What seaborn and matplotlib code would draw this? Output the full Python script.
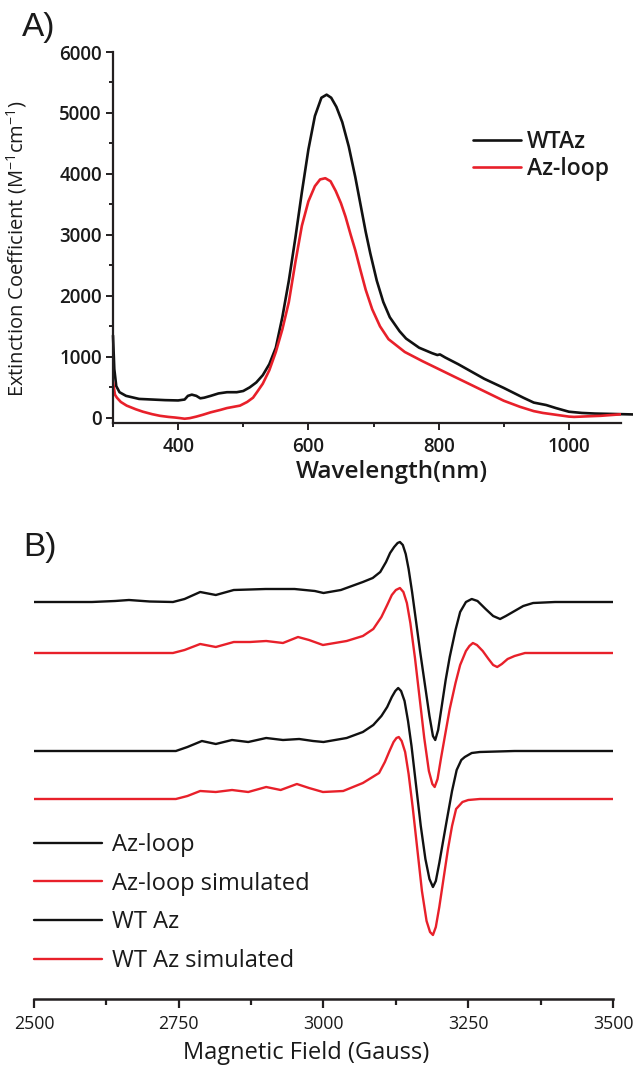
import numpy as np
import pandas as pd
import matplotlib
matplotlib.use("Agg")
import matplotlib.pyplot as plt
import seaborn as sns
from matplotlib.ticker import MultipleLocator

# ---------------- Panel A: UV-vis ----------------
wt_wl = [300, 302, 305, 310, 320, 340, 360, 380, 400, 410, 415, 421, 428, 434, 440, 450, 462, 475,
         490, 500, 510, 520, 530, 540, 550, 560, 570, 580, 590, 600, 610, 620, 628, 635, 643, 652,
         662, 672, 680, 688, 695, 705, 715, 725, 740, 750, 770, 790, 798, 802, 810, 830, 850, 870,
         900, 930, 946, 965, 980, 1000, 1020, 1040, 1060, 1080, 1100]
wt_ext = [1350, 800, 520, 420, 360, 310, 300, 290, 285, 300, 360, 380, 360, 320, 330, 360, 400, 420,
          420, 440, 500, 580, 700, 880, 1150, 1650, 2250, 2950, 3700, 4400, 4950, 5250, 5300, 5250, 5100, 4850,
          4450, 3950, 3500, 3050, 2700, 2250, 1900, 1650, 1420, 1300, 1150, 1060, 1030, 1040, 990, 880, 760, 640,
          490, 330, 250, 210, 160, 100, 80, 70, 65, 60, 55]

loop_wl = [300, 303, 306, 312, 321, 335, 346, 360, 372, 385, 395, 403, 410, 418, 428, 438, 450, 465,
           475, 485, 495, 506, 515, 521, 530, 540, 550, 560, 570, 580, 590, 600, 610, 618, 626, 634,
           642, 650, 657, 665, 672, 680, 688, 698, 710, 723, 748, 775, 800, 823, 850, 875, 900, 925, 946,
           960, 980, 1000, 1008, 1030, 1049, 1083]
loop_ext = [590, 380, 330, 260, 200, 140, 100, 60, 33, 15, 5, -5, -15, -5, 20, 50, 90, 130,
            160, 180, 200, 260, 330, 420, 560, 780, 1080, 1450, 1900, 2550, 3150, 3550, 3800, 3910, 3930, 3880,
            3720, 3520, 3300, 3000, 2750, 2420, 2100, 1780, 1500, 1290, 1080, 930, 800, 680, 540, 410, 280, 180, 110,
            80, 50, 20, 15, 25, 33, 60]

uv_labels = ["WTAz", "Az-loop"]

# ---------------- Panel B: EPR ----------------
azloop_field = [2500, 2600, 2640, 2664, 2700, 2740, 2760, 2787, 2814, 2845, 2900, 2950, 2985, 3000, 3030,
                3068, 3085, 3098, 3108, 3115, 3122, 3128, 3132, 3137, 3142, 3147, 3153, 3160, 3167, 3175,
                3183, 3189, 3193, 3198, 3204, 3211, 3218, 3228, 3236, 3246, 3256, 3266, 3280, 3293, 3305,
                3315, 3327, 3345, 3362, 3400, 3500]
azloop_int = [0, 0, 1, 2, 0.5, 0, 3, 10, 7, 12, 13, 13, 11, 9, 12,
              20, 24, 30, 40, 49, 55, 59, 60, 57, 48, 33, 10, -20, -50, -82,
              -114, -134, -138, -128, -105, -78, -55, -28, -10, 0, 3, 1, -7, -14, -17,
              -14, -10, -4, -1, 0, 0]

azloop_sim_field = [2500, 2740, 2760, 2787, 2814, 2845, 2873, 2901, 2930, 2956, 2975, 2999, 3040, 3068,
                    3086, 3100, 3110, 3118, 3125, 3132, 3138, 3144, 3150, 3158, 3166, 3174, 3182, 3188,
                    3192, 3197, 3203, 3210, 3218, 3228, 3236, 3246, 3252, 3258, 3265, 3275, 3285, 3293,
                    3300, 3308, 3318, 3330, 3348, 3500]
azloop_sim_int = [0, 0, 3, 9, 6, 11, 11, 12, 10, 16, 13, 8, 12, 17,
                  24, 36, 48, 58, 63, 65, 61, 50, 30, -5, -45, -85, -118, -131,
                  -134, -126, -105, -82, -56, -30, -12, 2, 7, 10, 8, 2, -6, -12,
                  -14, -11, -6, -3, 0, 0]

wt_field = [2500, 2745, 2765, 2790, 2814, 2842, 2870, 2901, 2930, 2958, 2982, 3000, 3040, 3068, 3086,
            3100, 3110, 3118, 3124, 3129, 3134, 3140, 3146, 3152, 3160, 3168, 3176, 3183, 3189, 3194,
            3200, 3206, 3213, 3222, 3230, 3238, 3244, 3256, 3270, 3330, 3500]
wt_int = [0, 0, 4, 10, 7, 11, 9, 13, 11, 12, 10, 9, 13, 19, 26,
          35, 44, 54, 60, 63, 60, 50, 30, 5, -35, -75, -108, -128, -136, -130,
          -112, -92, -69, -40, -19, -9, -6, -2, -1, 0, 0]

wt_sim_field = [2500, 2745, 2765, 2787, 2814, 2842, 2870, 2901, 2926, 2954, 2975, 2999, 3034, 3068, 3096,
                3106, 3114, 3121, 3126, 3130, 3135, 3141, 3147, 3154, 3162, 3170, 3178, 3184, 3189, 3194,
                3200, 3208, 3215, 3222, 3229, 3240, 3250, 3270, 3500]
wt_sim_int = [0, 0, 3, 8, 7, 9, 7, 12, 9, 15, 11, 7, 8, 16, 26,
              37, 48, 57, 61, 62, 58, 47, 25, -8, -50, -92, -122, -133, -136, -128,
              -108, -77, -50, -27, -10, -3, -1, 0, 0]

epr_labels = ["Az-loop", "Az-loop simulated", "WT Az", "WT Az simulated"]
epr_offsets = [0, -51, -149, -197]

BLACK = "#111111"
RED = "#e8202a"
AXC = "#231f20"
TXT = "#1a1a1a"

sns.set_theme(style="ticks")
plt.rcParams["font.family"] = ["Open Sans", "DejaVu Sans"]
plt.rcParams["mathtext.fontset"] = "custom"
plt.rcParams["mathtext.rm"] = "Open Sans"

W, H = 633, 1072
fig = plt.figure(figsize=(W / 100, H / 100), dpi=100)


def rect(x0, y0, x1, y1):
    return [x0 / W, 1 - y1 / H, (x1 - x0) / W, (y1 - y0) / H]


# ---------------- Panel A ----------------
axA = fig.add_axes(rect(113, 52, 621, 423))
sns.lineplot(x=wt_wl, y=wt_ext, ax=axA, color=BLACK, lw=1.9, label=uv_labels[0], clip_on=False)
sns.lineplot(x=loop_wl, y=loop_ext, ax=axA, color=RED, lw=1.9, label=uv_labels[1])
axA.set_xlim(300, 1080)
axA.set_ylim(-85, 6000)
axA.xaxis.set_major_locator(MultipleLocator(200))
axA.xaxis.set_minor_locator(MultipleLocator(100))
axA.yaxis.set_major_locator(MultipleLocator(1000))
axA.yaxis.set_minor_locator(MultipleLocator(500))
for s in ["top", "right"]:
    axA.spines[s].set_visible(False)
for s in ["left", "bottom"]:
    axA.spines[s].set_linewidth(1.6)
    axA.spines[s].set_color(AXC)
axA.tick_params(which="major", length=5, width=1.4, color=AXC, direction="out",
                labelsize=13.5, pad=3, labelcolor=TXT)
axA.tick_params(which="minor", length=3, width=1.4, color=AXC, direction="out")
axA.tick_params(axis="x", which="major", pad=5)
for lab in axA.get_xticklabels() + axA.get_yticklabels():
    lab.set_fontweight("semibold")
axA.set_xlabel("Wavelength(nm)", fontsize=17.5, fontweight="semibold", labelpad=4, color=TXT)
axA.xaxis.set_label_coords((392 - 113) / 508, -0.1)
axA.set_ylabel(r"Extinction Coefficient (M$^{\mathregular{-1}}$cm$^{\mathregular{-1}}$)",
               fontsize=14.5, labelpad=6, color=TXT)
axA.yaxis.set_label_coords(-0.165, 0.47)
legA = axA.legend(loc="upper left", bbox_to_anchor=(473 / W, 1 - 130 / H), bbox_transform=fig.transFigure,
                  frameon=False, fontsize=16.5, handlelength=2.1, handletextpad=0.25, labelspacing=0.12,
                  borderpad=0, borderaxespad=0)
for t in legA.get_texts():
    t.set_fontweight("semibold")
    t.set_color(TXT)
fig.text(22 / W, 1 - 12 / H, "A)", fontsize=24, family="Liberation Sans", va="top", ha="left", color=TXT)

# ---------------- Panel B ----------------
axB = fig.add_axes(rect(34, 520, 613, 999))
epr_fields = [azloop_field, azloop_sim_field, wt_field, wt_sim_field]
epr_ints = [azloop_int, azloop_sim_int, wt_int, wt_sim_int]
epr_colors = [BLACK, RED, BLACK, RED]
for f, v, off, c, lab in zip(epr_fields, epr_ints, epr_offsets, epr_colors, epr_labels):
    sns.lineplot(x=f, y=np.asarray(v, dtype=float) + off, ax=axB, color=c, lw=1.7, label=lab)
axB.set_xlim(2500, 3500)
axB.set_ylim(-397, 82)
axB.xaxis.set_major_locator(MultipleLocator(250))
axB.xaxis.set_minor_locator(MultipleLocator(125))
axB.set_yticks([])
axB.set_ylabel("")
for s in ["top", "right", "left"]:
    axB.spines[s].set_visible(False)
axB.spines["bottom"].set_linewidth(1.8)
axB.spines["bottom"].set_color(AXC)
axB.tick_params(axis="x", which="major", length=6.5, width=1.6, color=AXC, direction="out",
                labelsize=12.8, pad=5, labelcolor=TXT)
axB.tick_params(axis="x", which="minor", length=4.3, width=1.6, color=AXC, direction="out")
axB.set_xlabel("Magnetic Field (Gauss)", fontsize=17, color=TXT)
axB.xaxis.set_label_coords((306 - 34) / 579, -0.088)
legB = axB.legend(loc="upper left", bbox_to_anchor=(34 / W, 1 - 833 / H), bbox_transform=fig.transFigure,
                  frameon=False, fontsize=17, handlelength=2.9, handletextpad=0.42, labelspacing=0.62,
                  borderpad=0, borderaxespad=0)
for t in legB.get_texts():
    t.set_color(TXT)
fig.text(23 / W, 1 - 532 / H, "B)", fontsize=24, family="Liberation Sans", va="top", ha="left", color=TXT)

fig.savefig("out.png", dpi=100)
